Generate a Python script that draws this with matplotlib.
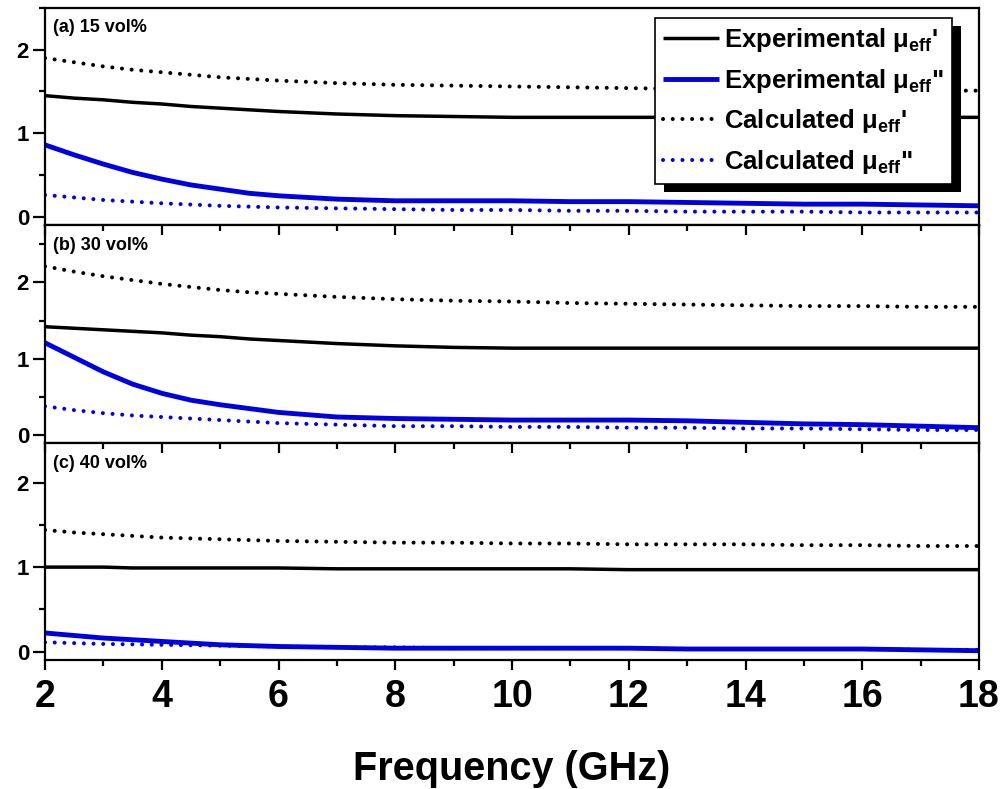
import matplotlib
matplotlib.use("Agg")
import matplotlib.pyplot as plt
from matplotlib.ticker import MultipleLocator, FixedLocator
from matplotlib.patches import Rectangle

plt.rcParams['font.family'] = ['Liberation Sans', 'DejaVu Sans']
plt.rcParams['font.weight'] = 'bold'
plt.rcParams['mathtext.fontset'] = 'custom'
plt.rcParams['mathtext.rm'] = 'Liberation Sans:bold'
plt.rcParams['mathtext.it'] = 'Liberation Sans:bold'
plt.rcParams['mathtext.bf'] = 'Liberation Sans:bold'
plt.rcParams['mathtext.default'] = 'rm'

freq = [2, 2.5, 3, 3.5, 4, 4.5, 5, 5.5, 6, 7, 8, 9, 10, 11, 12, 13, 14, 15, 16, 17, 18]

# (a) 15 vol%
a_exp_re = [1.45, 1.42, 1.40, 1.37, 1.35, 1.32, 1.30, 1.28, 1.26, 1.23, 1.21, 1.20, 1.19, 1.19, 1.19, 1.19, 1.19, 1.19, 1.19, 1.19, 1.19]
a_exp_im = [0.86, 0.74, 0.63, 0.53, 0.45, 0.38, 0.33, 0.28, 0.25, 0.21, 0.19, 0.19, 0.19, 0.18, 0.18, 0.17, 0.16, 0.15, 0.15, 0.14, 0.13]
a_calc_re = [1.90, 1.85, 1.80, 1.76, 1.73, 1.70, 1.67, 1.65, 1.63, 1.60, 1.58, 1.57, 1.56, 1.55, 1.54, 1.53, 1.53, 1.52, 1.52, 1.51, 1.51]
a_calc_im = [0.26, 0.23, 0.20, 0.18, 0.16, 0.145, 0.13, 0.12, 0.11, 0.10, 0.09, 0.08, 0.08, 0.07, 0.07, 0.06, 0.06, 0.06, 0.05, 0.05, 0.05]

# (b) 30 vol%
b_exp_re = [1.42, 1.40, 1.38, 1.36, 1.34, 1.31, 1.29, 1.26, 1.24, 1.20, 1.17, 1.15, 1.14, 1.14, 1.14, 1.14, 1.14, 1.14, 1.14, 1.14, 1.14]
b_exp_im = [1.21, 1.02, 0.83, 0.67, 0.55, 0.46, 0.40, 0.35, 0.30, 0.24, 0.22, 0.21, 0.20, 0.20, 0.20, 0.19, 0.17, 0.15, 0.14, 0.12, 0.10]
b_calc_re = [2.21, 2.14, 2.08, 2.03, 1.98, 1.94, 1.90, 1.87, 1.85, 1.81, 1.78, 1.76, 1.75, 1.73, 1.72, 1.71, 1.70, 1.69, 1.69, 1.68, 1.68]
b_calc_im = [0.38, 0.33, 0.29, 0.26, 0.24, 0.22, 0.20, 0.18, 0.16, 0.14, 0.12, 0.12, 0.11, 0.11, 0.10, 0.10, 0.09, 0.09, 0.08, 0.07, 0.07]

# (c) 40 vol%
c_exp_re = [1.00, 1.00, 1.00, 0.99, 0.99, 0.99, 0.99, 0.99, 0.99, 0.98, 0.98, 0.98, 0.98, 0.98, 0.97, 0.97, 0.97, 0.97, 0.97, 0.97, 0.97]
c_exp_im = [0.22, 0.19, 0.16, 0.14, 0.12, 0.10, 0.08, 0.07, 0.06, 0.05, 0.04, 0.04, 0.04, 0.04, 0.04, 0.03, 0.03, 0.03, 0.03, 0.02, 0.01]
c_calc_re = [1.44, 1.41, 1.39, 1.37, 1.35, 1.34, 1.33, 1.32, 1.31, 1.30, 1.29, 1.29, 1.28, 1.28, 1.27, 1.27, 1.27, 1.26, 1.26, 1.25, 1.25]
c_calc_im = [0.11, 0.10, 0.09, 0.085, 0.08, 0.075, 0.07, 0.065, 0.06, 0.05, 0.05, 0.04, 0.04, 0.04, 0.04, 0.03, 0.03, 0.03, 0.03, 0.02, 0.02]

panel_labels = ['(a) 15 vol%', '(b) 30 vol%', '(c) 40 vol%']
legend_labels = ["Experimental μ$_{eff}$'", 'Experimental μ$_{eff}$"',
                 "Calculated μ$_{eff}$'", 'Calculated μ$_{eff}$"']
ylims = [(-0.1, 2.5), (-0.1, 2.75), (-0.1, 2.47)]
x_ticks = [2, 4, 6, 8, 10, 12, 14, 16, 18]

panels = [
    (a_exp_re, a_exp_im, a_calc_re, a_calc_im),
    (b_exp_re, b_exp_im, b_calc_re, b_calc_im),
    (c_exp_re, c_exp_im, c_calc_re, c_calc_im),
]

W, H = 1007, 789
fig = plt.figure(figsize=(W / 100, H / 100), dpi=100)
left, right = 45 / W, 979 / W
bounds = [(8, 225), (225, 443), (443, 660)]
axes = []
for i, (t, b) in enumerate(bounds):
    ax = fig.add_axes([left, 1 - b / H, right - left, (b - t) / H])
    axes.append(ax)

dot = (0, (0.01, 2.4))
blue = '#0000e0'
for i, ax in enumerate(axes):
    er, ei, cr, ci = panels[i]
    l1, = ax.plot(freq, er, color='black', lw=2.5, solid_capstyle='butt')
    l2, = ax.plot(freq, ei, color=blue, lw=3.5, solid_capstyle='butt')
    l3, = ax.plot(freq, cr, color='black', lw=2.9, linestyle=dot, dash_capstyle='round')
    l4, = ax.plot(freq, ci, color=blue, lw=2.9, linestyle=dot, dash_capstyle='round')
    ax.set_xlim(2, 18)
    ax.set_ylim(*ylims[i])
    ax.xaxis.set_major_locator(FixedLocator(x_ticks))
    ax.xaxis.set_minor_locator(MultipleLocator(1))
    ax.yaxis.set_major_locator(MultipleLocator(1))
    ax.yaxis.set_minor_locator(MultipleLocator(0.5))
    for s in ax.spines.values():
        s.set_linewidth(1.6)
    ax.tick_params(axis='y', which='major', direction='out', length=8.5, width=1.6,
                   labelsize=16, pad=3)
    ax.tick_params(axis='y', which='minor', direction='out', length=4.5, width=1.6)
    if i == 0:
        ax.tick_params(axis='x', which='both', bottom=False, top=False, labelbottom=False)
    elif i == 1:
        ax.tick_params(axis='x', which='major', top=True, bottom=False, direction='in',
                       length=7, width=1.6, labelbottom=False)
        ax.tick_params(axis='x', which='minor', top=True, bottom=False, direction='in',
                       length=4, width=1.6)
    else:
        ax.tick_params(axis='x', which='major', top=True, bottom=True, direction='in',
                       length=7, width=1.6, labelbottom=True, labelsize=27, pad=14)
        ax.tick_params(axis='x', which='minor', top=True, bottom=True, direction='in',
                       length=4, width=1.6)
        for t in ax.xaxis.get_major_ticks():
            t.tick1line.set_marker(3)  # bottom tick pointing down (out)
        for t in ax.xaxis.get_minor_ticks():
            t.tick1line.set_marker(3)
    ax.text(8 / 934, 1 - 20 / 217, panel_labels[i], transform=ax.transAxes,
            fontsize=13, fontweight='bold', va='center', ha='left')
    if i == 0:
        handles = [l1, l2, l3, l4]

axes[2].set_xlabel('Frequency (GHz)', fontsize=28.5, fontweight='bold', labelpad=25)

leg = axes[0].legend(handles, legend_labels, loc='upper right',
                     bbox_to_anchor=(952 / W, 1 - 18 / H), bbox_transform=fig.transFigure,
                     borderaxespad=0, fancybox=False, framealpha=1, edgecolor='black',
                     prop={'family': 'Liberation Sans', 'weight': 'bold', 'size': 18.5},
                     handlelength=2.2, handletextpad=0.2, labelspacing=0.5,
                     borderpad=0.3, frameon=True)
leg.get_frame().set_linewidth(1.2)
leg.set_zorder(10)

fig.canvas.draw()
bb = leg.get_window_extent()
inv = fig.transFigure.inverted()
(x0, y0) = inv.transform((bb.x0 + 9, bb.y0 - 8))
(x1, y1) = inv.transform((bb.x1 + 9, bb.y1 - 8))
shadow = Rectangle((x0, y0), x1 - x0, y1 - y0, transform=fig.transFigure,
                   facecolor='black', edgecolor='none', zorder=9)
axes[0].add_artist(shadow)
shadow.set_clip_on(False)

fig.savefig('out.png', dpi=100)
